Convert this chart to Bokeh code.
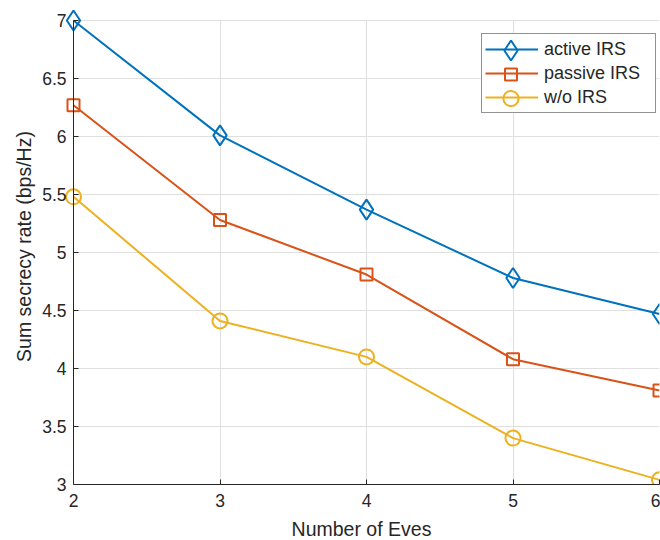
from bokeh.plotting import figure
from bokeh.models import Range1d, FixedTicker, Legend, LegendItem, LinearAxis
from bokeh.embed import file_html
from bokeh.resources import INLINE

# Sum secrecy rate versus number of eavesdroppers
num_eves = [2, 3, 4, 5, 6]
active_irs = [7.00, 6.01, 5.37, 4.78, 4.47]
passive_irs = [6.27, 5.28, 4.81, 4.08, 3.81]
without_irs = [5.48, 4.41, 4.10, 3.40, 3.04]

x_ticks = [2, 3, 4, 5, 6]
x_tick_labels = ["2", "3", "4", "5", "6"]
y_ticks = [3, 3.5, 4, 4.5, 5, 5.5, 6, 6.5, 7]
y_tick_labels = ["3", "3.5", "4", "4.5", "5", "5.5", "6", "6.5", "7"]

X_LIM = (2, 6)
Y_LIM = (3, 7)

FONT = "Liberation Sans"
TEXT = "#262626"
AXIS = "#262626"
GRID = "#dfdfdf"

# Plot area of 586 x 464 px for the axis limits, plus a little room on the
# left and at the top so the markers sitting on the limits are drawn whole.
AREA_W, AREA_H = 586, 464
PAD_L, PAD_T = 10, 12
x_span = X_LIM[1] - X_LIM[0]
y_span = Y_LIM[1] - Y_LIM[0]

p = figure(
    frame_width=AREA_W + PAD_L, frame_height=AREA_H + PAD_T,
    min_border_left=73 - PAD_L, min_border_right=1,
    min_border_top=20 - PAD_T, min_border_bottom=56,
    x_range=Range1d(X_LIM[0] - PAD_L * x_span / AREA_W, X_LIM[1]),
    y_range=Range1d(Y_LIM[0], Y_LIM[1] + PAD_T * y_span / AREA_H),
    output_backend="svg", toolbar_location=None,
    background_fill_color="white", border_fill_color="white",
)
p.outline_line_color = None


def style_axis(ax, ticks, labels, lim):
    ax.ticker = FixedTicker(ticks=ticks)
    ax.major_label_overrides = {t: l for t, l in zip(ticks, labels)}
    ax.bounds = lim
    ax.minor_tick_line_color = None
    ax.major_tick_in = 5
    ax.major_tick_out = 0
    ax.axis_line_color = AXIS
    ax.major_tick_line_color = AXIS
    ax.major_label_text_font = FONT
    ax.major_label_text_font_size = "17.5px"
    ax.major_label_text_color = TEXT
    ax.axis_label_text_font = FONT
    ax.axis_label_text_font_size = "19.5px"
    ax.axis_label_text_font_style = "normal"
    ax.axis_label_text_color = TEXT


xaxis = p.xaxis[0]
style_axis(xaxis, x_ticks, x_tick_labels, X_LIM)
xaxis.axis_label = "Number of Eves"
xaxis.major_label_standoff = 9
xaxis.axis_label_standoff = 8

# y axis: tick labels and title on the panel edge ...
ylab = p.yaxis[0]
style_axis(ylab, y_ticks, y_tick_labels, Y_LIM)
ylab.axis_label = "Sum secrecy rate (bps/Hz)"
ylab.axis_line_color = None
ylab.major_tick_line_color = None
ylab.major_label_standoff = 7 - PAD_L
ylab.axis_label_standoff = 4

# ... and the axis line with its ticks at x = 2 (no labels of its own)
yline = LinearAxis()
style_axis(yline, y_ticks, y_tick_labels, Y_LIM)
yline.fixed_location = X_LIM[0]
yline.major_label_text_font_size = "1px"
yline.major_label_text_color = None
yline.major_label_standoff = 0
p.add_layout(yline, "left")

p.xgrid.ticker = FixedTicker(ticks=x_ticks)
p.ygrid.ticker = FixedTicker(ticks=y_ticks)
p.grid.grid_line_color = GRID
p.grid.grid_line_width = 1
if "cross_bounds" in p.xgrid[0].properties():
    p.xgrid[0].cross_bounds = Y_LIM
    p.ygrid[0].cross_bounds = X_LIM

series = [
    ("active IRS", active_irs, "#0072BD", "diamond", 20),
    ("passive IRS", passive_irs, "#D95319", "square", 12),
    ("w/o IRS", without_irs, "#EDB120", "circle", 15),
]

line_items = []
marker_renderers = []
for label, ys, color, marker, size in series:
    ln = p.line(num_eves, ys, line_color=color, line_width=2)
    mk = p.scatter(num_eves, ys, marker=marker, size=size, line_color=color,
                   line_width=2, fill_color=None)
    line_items.append(LegendItem(label=label, renderers=[ln]))
    marker_renderers.append((mk, size))

# Legend box: lines and labels
ROW = 24
LEG_PAD = 3
LEG_X = 481 - (73 - PAD_L)       # from the left of the plot area, px
LEG_Y = 371                       # from the bottom of the plot area, px
legend = Legend(
    items=line_items, location=(LEG_X, LEG_Y),
    label_text_font=FONT, label_text_font_size="18px", label_text_color=TEXT,
    glyph_width=53, glyph_height=ROW, label_height=ROW, label_width=108,
    label_standoff=6, spacing=0, padding=LEG_PAD, margin=0,
    border_line_color=AXIS, border_line_width=1,
    background_fill_color="white", background_fill_alpha=1,
)
p.add_layout(legend, "center")

# Legend markers at full size, one small borderless legend per row
leg_top = LEG_Y + 3 * ROW + 2 * LEG_PAD
for i, (mk, size) in enumerate(marker_renderers):
    gh = int(round(size / 0.4))
    row_center = leg_top - LEG_PAD - ROW / 2 - i * ROW
    mleg = Legend(
        items=[LegendItem(label=" ", renderers=[mk])],
        location=(LEG_X + LEG_PAD, int(round(row_center - gh / 2))),
        glyph_width=53, glyph_height=gh, label_height=1, label_width=1,
        label_text_font_size="1px", label_text_color=None, label_standoff=0,
        spacing=0, padding=0, margin=0,
        border_line_color=None, background_fill_alpha=0,
    )
    p.add_layout(mleg, "center")

open("out.html", "w").write(file_html(p, INLINE))
